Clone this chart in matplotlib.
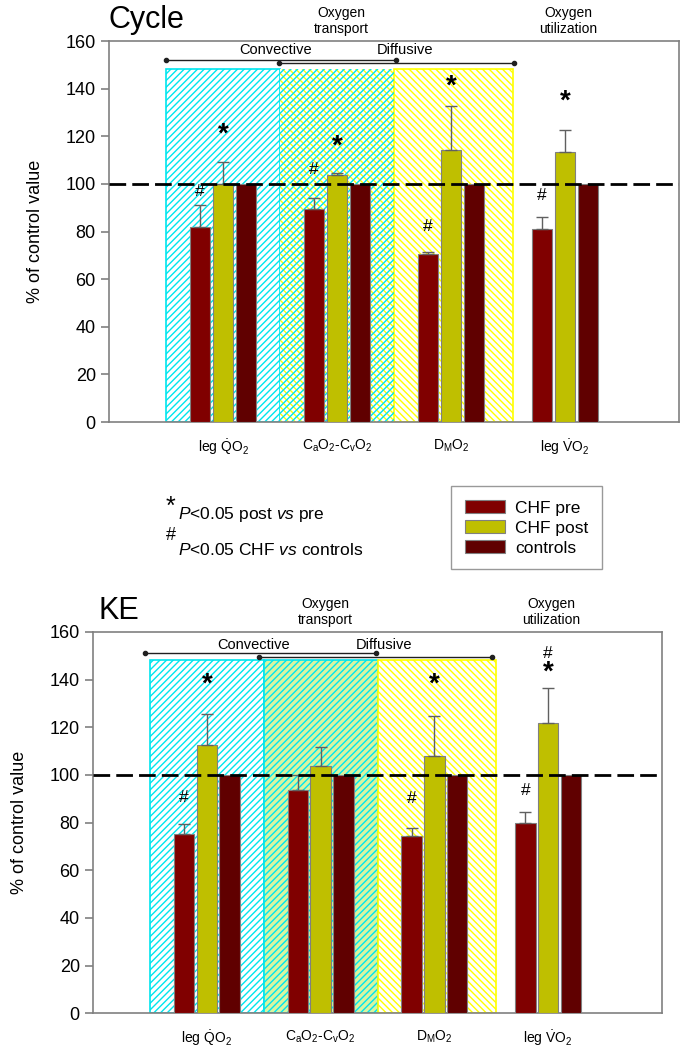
import matplotlib
matplotlib.use("Agg")
import matplotlib.pyplot as plt
import numpy as np
from matplotlib.patches import Patch

plt.rcParams['font.family'] = ['Liberation Sans', 'DejaVu Sans']
plt.rcParams['mathtext.fontset'] = 'custom'
plt.rcParams['mathtext.rm'] = 'Liberation Sans'
plt.rcParams['mathtext.it'] = 'Liberation Sans:italic'
plt.rcParams['mathtext.bf'] = 'Liberation Sans:bold'
plt.rcParams['hatch.linewidth'] = 1.0

categories = [r'leg $\dot{\mathrm{Q}}$O$_2$',
              r'C$_\mathrm{a}$O$_2$-C$_\mathrm{v}$O$_2$',
              r'D$_\mathrm{M}$O$_2$',
              r'leg $\dot{\mathrm{V}}$O$_2$']
series_names = ['CHF pre', 'CHF post', 'controls']

cycle_pre = [81.8, 89.4, 70.5, 81.0]
cycle_pre_err = [9.2, 4.8, 1.0, 5.1]
cycle_post = [100.0, 103.8, 114.3, 113.2]
cycle_post_err = [9.0, 0.9, 18.5, 9.5]
cycle_ctrl = [100, 100, 100, 100]

ke_pre = [75.4, 93.8, 74.3, 79.7]
ke_pre_err = [4.2, 6.0, 3.5, 4.8]
ke_post = [112.4, 103.7, 107.9, 122.0]
ke_post_err = [13.4, 8.0, 16.8, 14.4]
ke_ctrl = [100, 100, 100, 100]

# significance marks: (group index, series index, y value, symbol)
cycle_marks = [(0, 0, 96.7, '#'), (0, 1, 120.5, '*'), (1, 0, 105.9, '#'), (1, 1, 115.5, '*'),
               (2, 0, 82.3, '#'), (2, 1, 141.0, '*'), (3, 0, 95.2, '#'), (3, 1, 134.5, '*')]
ke_marks = [(0, 0, 90.7, '#'), (0, 1, 138.0, '*'), (2, 0, 90.0, '#'), (2, 1, 138.0, '*'),
            (3, 0, 93.3, '#'), (3, 1, 151.0, '#'), (3, 1, 143.0, '*')]

colors = ['#800000', '#bfbf00', '#600000']
GRAY = '#808080'

fig = plt.figure(figsize=(6.83, 10.5), dpi=100)
ax1 = fig.add_axes([109/683, 1-422/1050, 570/683, 381/1050])
ax2 = fig.add_axes([93/683, 1-1013.3/1050, 569/683, 381.3/1050])


def draw_panel(ax, title, pre, pre_err, post, post_err, ctrl, marks, mid_style, brackets, title_x):
    x = np.arange(1, len(categories) + 1)
    region_top = 148.3
    # shaded regions
    ax.bar(0.5, region_top, width=1.0, align='edge', color='white', edgecolor='#00e5ee',
           hatch='/////', linewidth=1.2, zorder=1)
    if mid_style == 'check':
        ax.bar(1.5, region_top, width=1.0, align='edge', color='white', edgecolor='#ffff00',
               hatch='\\\\\\\\\\', linewidth=0, zorder=1)
        ax.bar(1.5, region_top, width=1.0, align='edge', color='none', edgecolor='#00e5ee',
               hatch='/////', linewidth=0, zorder=1.1)
    else:
        ax.bar(1.5, region_top, width=1.0, align='edge', color='#d8f5a0', edgecolor='#00e5ee',
               hatch='/////', linewidth=1.2, zorder=1)
    ax.bar(2.5, region_top, width=1.04, align='edge', color='white', edgecolor='#ffff00',
           hatch='\\\\\\\\\\', linewidth=1.2, zorder=1)

    w = 0.18
    off = 0.2
    ekw = dict(ecolor='#606060', elinewidth=1.0, capsize=4, capthick=1.0)
    ax.bar(x - off, pre, width=w, color=colors[0], edgecolor=GRAY, linewidth=0.8,
           yerr=[np.zeros(len(pre)), pre_err], error_kw=ekw, zorder=3, label=series_names[0])
    ax.bar(x, post, width=w, color=colors[1], edgecolor=GRAY, linewidth=0.8,
           yerr=[np.zeros(len(post)), post_err], error_kw=ekw, zorder=3, label=series_names[1])
    ax.bar(x + off, ctrl, width=w, color=colors[2], edgecolor=GRAY, linewidth=0.8,
           zorder=3, label=series_names[2])

    ax.axhline(100, color='black', lw=2.0, dashes=(6, 2.2), zorder=5)

    for gi, si, yv, sym in marks:
        xp = x[gi] + (si - 1) * off
        if sym == '*':
            ax.text(xp, yv, '*', ha='center', va='center', fontsize=20, fontweight='bold', zorder=6)
        else:
            ax.text(xp, yv, '#', ha='center', va='center', fontsize=12.5, zorder=6)

    # brackets
    for (x0, x1, yb) in brackets[:2]:
        ax.plot([x0, x1], [yb, yb], color='#202020', lw=1.0, marker='o', markersize=3,
                clip_on=False, zorder=4)
    (cx, cy), (dx, dy) = brackets[2], brackets[3]
    ax.text(cx, cy, 'Convective', ha='center', va='center', fontsize=10.5)
    ax.text(dx, dy, 'Diffusive', ha='center', va='center', fontsize=10.5)

    ax.set_xlim(0, 5)
    ax.set_ylim(0, 160)
    ax.set_yticks(np.arange(0, 161, 20))
    ax.set_xticks(x)
    ax.set_xticklabels(categories, fontsize=10)
    ax.tick_params(axis='x', length=0, pad=11)
    ax.tick_params(axis='y', labelsize=13, color=GRAY, length=6, width=1.2)
    for s in ax.spines.values():
        s.set_color(GRAY)
        s.set_linewidth(1.2)
    ax.set_ylabel('% of control value', fontsize=13)
    ax.yaxis.set_label_coords(-0.114, 0.5)

    ax.text(title_x, 1.0 + 21/381, title, transform=ax.transAxes, fontsize=22,
            ha='left', va='center')
    ax.text(2.04, 1.0 + 20/381, 'Oxygen\ntransport', transform=ax.get_xaxis_transform(),
            ha='center', va='center', fontsize=10, linespacing=1.2)
    ax.text(4.03, 1.0 + 20/381, 'Oxygen\nutilization', transform=ax.get_xaxis_transform(),
            ha='center', va='center', fontsize=10, linespacing=1.2)


draw_panel(ax1, 'Cycle', cycle_pre, cycle_pre_err, cycle_post, cycle_post_err, cycle_ctrl,
           cycle_marks, 'check',
           [(0.5, 2.52, 152.0), (1.49, 3.55, 150.7), (1.46, 156.3), (2.6, 156.3)], 0.0)
draw_panel(ax2, 'KE', ke_pre, ke_pre_err, ke_post, ke_post_err, ke_ctrl,
           ke_marks, 'green',
           [(0.46, 2.49, 151.0), (1.46, 3.51, 149.7), (1.41, 154.7), (2.56, 154.7)], 0.01)

# legend
leg_handles = [Patch(facecolor=c, edgecolor=GRAY, linewidth=0.8) for c in colors]
fig.legend(leg_handles, series_names, loc='upper left', bbox_to_anchor=(451/683, 1-486/1050),
           borderaxespad=0, fontsize=12.5, frameon=True, fancybox=False, edgecolor=GRAY,
           handlelength=2.3, handleheight=0.8, labelspacing=0.25, handletextpad=0.6,
           borderpad=0.8)
fig.legends[0].get_frame().set_linewidth(1.0)

# footnotes
fig.text(166/683, 1-507/1050, '*', fontsize=18, ha='left', va='center')
fig.text(178/683, 1-515/1050, r'$\mathit{P}$<0.05 post $\mathit{vs}$ pre', fontsize=12.5,
         ha='left', va='center')
fig.text(166/683, 1-535/1050, '#', fontsize=13, ha='left', va='center')
fig.text(178/683, 1-550/1050, r'$\mathit{P}$<0.05 CHF $\mathit{vs}$ controls', fontsize=12.5,
         ha='left', va='center')

fig.savefig('out.png', dpi=100)
